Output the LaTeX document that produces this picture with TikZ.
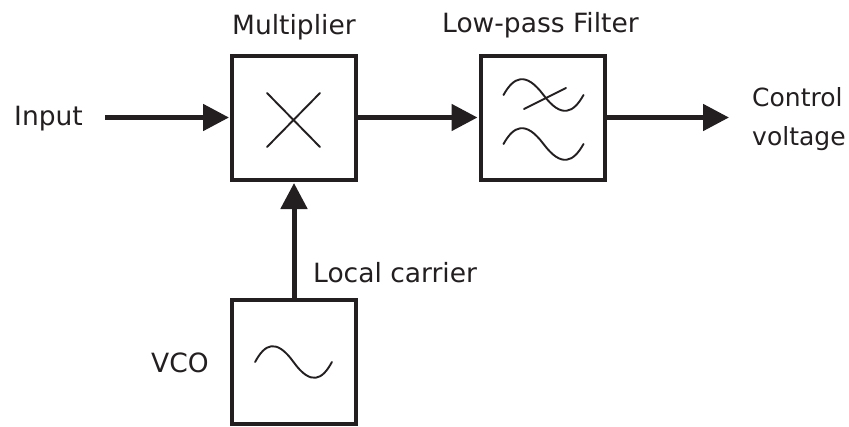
\documentclass[tikz,border=0pt]{standalone}
\usepackage{fontspec}
\setmainfont{DejaVu Sans}
\usetikzlibrary{arrows.meta}
\definecolor{ink}{HTML}{231F20}
\tikzset{
  x=1pt,y=-1pt,
  blockbox/.style={draw=ink,line width=4pt,fill=white,minimum width=124pt,minimum height=124pt,inner sep=0pt,outer sep=2pt},
  wire/.style={draw=ink,line width=5pt,-{Triangle[length=26pt,width=26pt,color=ink]},shorten >=1pt},
  thinline/.style={draw=ink,line width=1.9pt,line cap=round},
  lbl/.style={text=ink,font=\fontsize{26.5}{30}\selectfont,inner sep=0pt,anchor=base west},
  lblsmall/.style={lbl,font=\fontsize{25}{30}\selectfont},
  pics/sinewave/.style={code={\draw[thinline] (-40,0) .. controls (-30,-18) and (-18,-24) .. (0,0) .. controls (18,24) and (30,18) .. (40,0);}}
}
\begin{document}
\begin{tikzpicture}
\useasboundingbox (0,0) rectangle (849,426);
\node[blockbox] (mult) at (294,118) {};
\node[blockbox] (lpf) at (542.5,118) {};
\node[blockbox] (vco) at (294,362) {};
\coordinate (inp) at (105,117.5);
\coordinate (outp) at (730,117.5);
\node[lbl] (tinput) at (14,125) {Input};
\node[lbl] (tmult) at (232,34) {Multiplier};
\node[lbl] (tlpf) at (442,32) {Low-pass Filter};
\node[lblsmall] (tctrl) at (752,106) {Control};
\node[lblsmall] (tvolt) at (752,145) {voltage};
\node[lbl] (tlocal) at (313,282) {Local carrier};
\node[lbl] (tvco) at (151,372) {VCO};
\draw[wire] (inp) -- (mult.west |- inp);
\draw[wire] (mult.east |- inp) -- (lpf.west |- inp);
\draw[wire] (lpf.east |- inp) -- (outp);
\draw[wire] (vco.north) -- (mult.south);
\draw[thinline] (267,93) -- (320,147);
\draw[thinline] (320,93) -- (267,147);
\pic at (543.5,95) {sinewave};
\pic at (543.5,144) {sinewave};
\draw[thinline] (524,109) -- (566,88);
\pic[xscale=.96] at (293.5,362) {sinewave};
\end{tikzpicture}
\end{document}
